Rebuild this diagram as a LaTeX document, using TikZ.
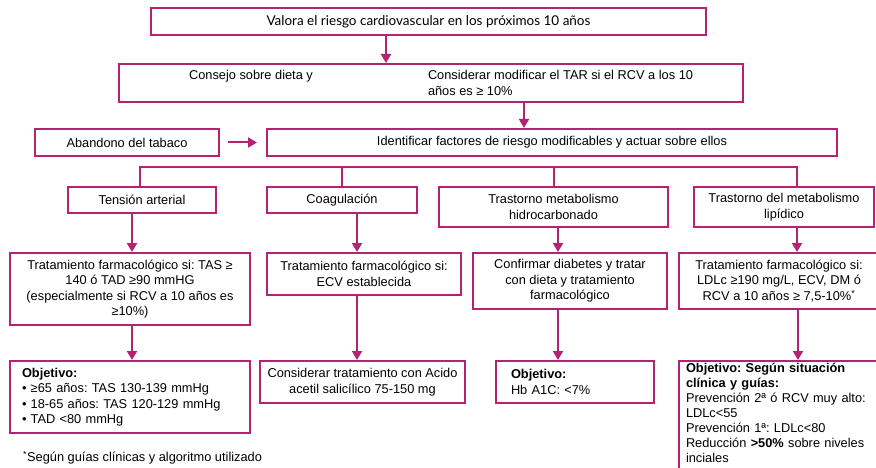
\documentclass[tikz,border=0pt]{standalone}
\usepackage{fontspec}
\setmainfont{Liberation Sans}
\newfontfamily\titlefont{Lato}
\usepackage{xcolor}
\usetikzlibrary{arrows.meta, positioning}
\definecolor{plum}{RGB}{180,35,115}
\frenchspacing

\begin{document}
\begin{tikzpicture}[
        x=1pt, y=-1pt,
        block/.style={rectangle, draw=plum, line width=2pt, align=center, inner sep=4pt, font=\fontsize{12.8}{15.5}\selectfont},
        goal/.style={block, align=left, inner xsep=12pt},
        relation/.style={-{Triangle[width=10pt, length=9pt]}, draw=plum, line width=2pt},
        link/.style={draw=plum, line width=2pt}
    ]
        \useasboundingbox (0,0) rectangle (876,468);

        % Top of the chart
        \node[block, minimum width=555pt, minimum height=27pt, font=\titlefont\fontsize{13.5}{15.5}\selectfont] (risk) at (428.5,21.5) {Valora el riesgo cardiovascular en los próximos 10 años};
        \node[block, below=27pt of risk, xshift=2.5pt, minimum width=624pt, minimum height=38pt, inner xsep=0pt] (advice) {\parbox[t]{264pt}{\centering Consejo sobre dieta y}\hspace{45pt}\parbox[t]{315pt}{\raggedright Considerar modificar el TAR si el RCV a los 10\\años es ≥ 10\%}};
        \node[block, below=25pt of advice, xshift=121pt, minimum width=570pt, minimum height=27pt] (factors) {Identificar factores de riesgo modificables y actuar sobre ellos};
        \node[block, left=46pt of factors, minimum width=184pt, minimum height=27pt] (smoking) {Abandono del tabaco};

        % Risk factors
        \node[block, below=29pt of smoking, xshift=15pt, minimum width=148pt, minimum height=26pt] (pressure) {Tensión arterial};
        \node[block, right=49pt of pressure, minimum width=150pt, minimum height=26pt] (clotting) {Coagulación};
        \node[block, right=20pt of clotting.north east, anchor=north west, minimum width=229pt, minimum height=40pt] (glucose) {Trastorno metabolismo\\hidrocarbonado};
        \node[block, right=24pt of glucose, minimum width=180pt, minimum height=40pt] (lipids) {Trastorno del metabolismo\\lipídico};

        % Treatment
        \node[block, below=38pt of pressure, xshift=-12pt, minimum width=240pt, minimum height=72pt] (treatBP) {Tratamiento farmacológico si: TAS ≥\\140 ó TAD ≥90 mmHG\\(especialmente si RCV a 10 años es\\≥10\%)};
        \node[block, right=15pt of treatBP.north east, anchor=north west, minimum width=194pt, minimum height=42pt] (treatCV) {Tratamiento farmacológico si:\\ECV establecida};
        \node[block, right=10pt of treatCV.north east, anchor=north west, minimum width=194pt, minimum height=56pt] (treatDM) {Confirmar diabetes y tratar\\con dieta y tratamiento\\farmacológico};
        \node[block, right=10pt of treatDM, minimum width=200pt, minimum height=56pt] (treatLip) {Tratamiento farmacológico si:\\LDLc ≥190 mg/L, ECV, DM ó\\RCV a 10 años ≥ 7,5-10\%\textsuperscript{*}};

        % Goals
        \node[goal, below=34pt of treatBP, text width=216pt, minimum height=72pt] (goalBP) {\textbf{Objetivo:}\\• ≥65 años: TAS 130-139 mmHg\\• 18-65 años: TAS 120-129 mmHg\\• TAD <80 mmHg};
        \node[block, right=8pt of goalBP.north east, anchor=north west, minimum width=205pt, minimum height=42pt] (goalCV) {Considerar tratamiento con Acido\\acetil salicílico 75-150 mg};
        \node[goal, right=29pt of goalCV.north east, anchor=north west, inner xsep=15pt, text width=128pt, minimum height=42pt] (goalDM) {\textbf{Objetivo:}\\Hb A1C: <7\%};
        \node[goal, right=23pt of goalDM.north east, anchor=north west, inner xsep=7pt, inner ysep=2pt, text width=185pt, font=\fontsize{12.8}{15}\selectfont] (goalLip) {\textbf{Objetivo: Según situación}\\\textbf{clínica y guías:}\\Prevención 2ª ó RCV muy alto:\\LDLc<55\\Prevención 1ª: LDLc<80\\Reducción \textbf{>50\%} sobre niveles\\inciales\\\mbox{}};

        \node[anchor=west, inner sep=0pt, font=\fontsize{12.8}{15.5}\selectfont] (note) at (23,458) {\textsuperscript{*}Según guías clínicas y algoritmo utilizado};

        % Connectors
        \draw[relation] ([xshift=-42.5pt]risk.south) -- ([xshift=-42.5pt]risk.south |- advice.north);
        \draw[relation] ([xshift=93pt]advice.south) -- ([xshift=93pt]advice.south |- factors.north);
        \draw[relation] ([xshift=8pt]smoking.east) -- ([xshift=-9pt]factors.west);
        \draw[link] ([xshift=-2pt]pressure.north) -- ++(0,-19) -| ([xshift=13pt]lipids.north);
        \draw[link] (clotting.north) -- ++(0,-19);
        \draw[link] (glucose.north) -- ++(0,-19);
        \draw[relation] ([xshift=2pt]treatBP.north |- pressure.south) -- ([xshift=2pt]treatBP.north);
        \draw[relation] ([xshift=15pt]clotting.south) -- ([xshift=15pt]clotting.south |- treatCV.north);
        \draw[relation] ([xshift=4.5pt]glucose.south) -- ([xshift=4.5pt]glucose.south |- treatDM.north);
        \draw[relation] ([xshift=13pt]lipids.south) -- ([xshift=13pt]lipids.south |- treatLip.north);
        \draw[relation] ([xshift=2pt]treatBP.south) -- ([xshift=2pt]treatBP.south |- goalBP.north);
        \draw[relation] ([xshift=-7pt]treatCV.south) -- ([xshift=-7pt]treatCV.south |- goalCV.north);
        \draw[relation] ([xshift=-12pt]treatDM.south) -- ([xshift=-12pt]treatDM.south |- goalDM.north);
        \draw[relation] ([xshift=19pt]treatLip.south) -- ([xshift=19pt]treatLip.south |- goalLip.north);
    \end{tikzpicture}
\end{document}
